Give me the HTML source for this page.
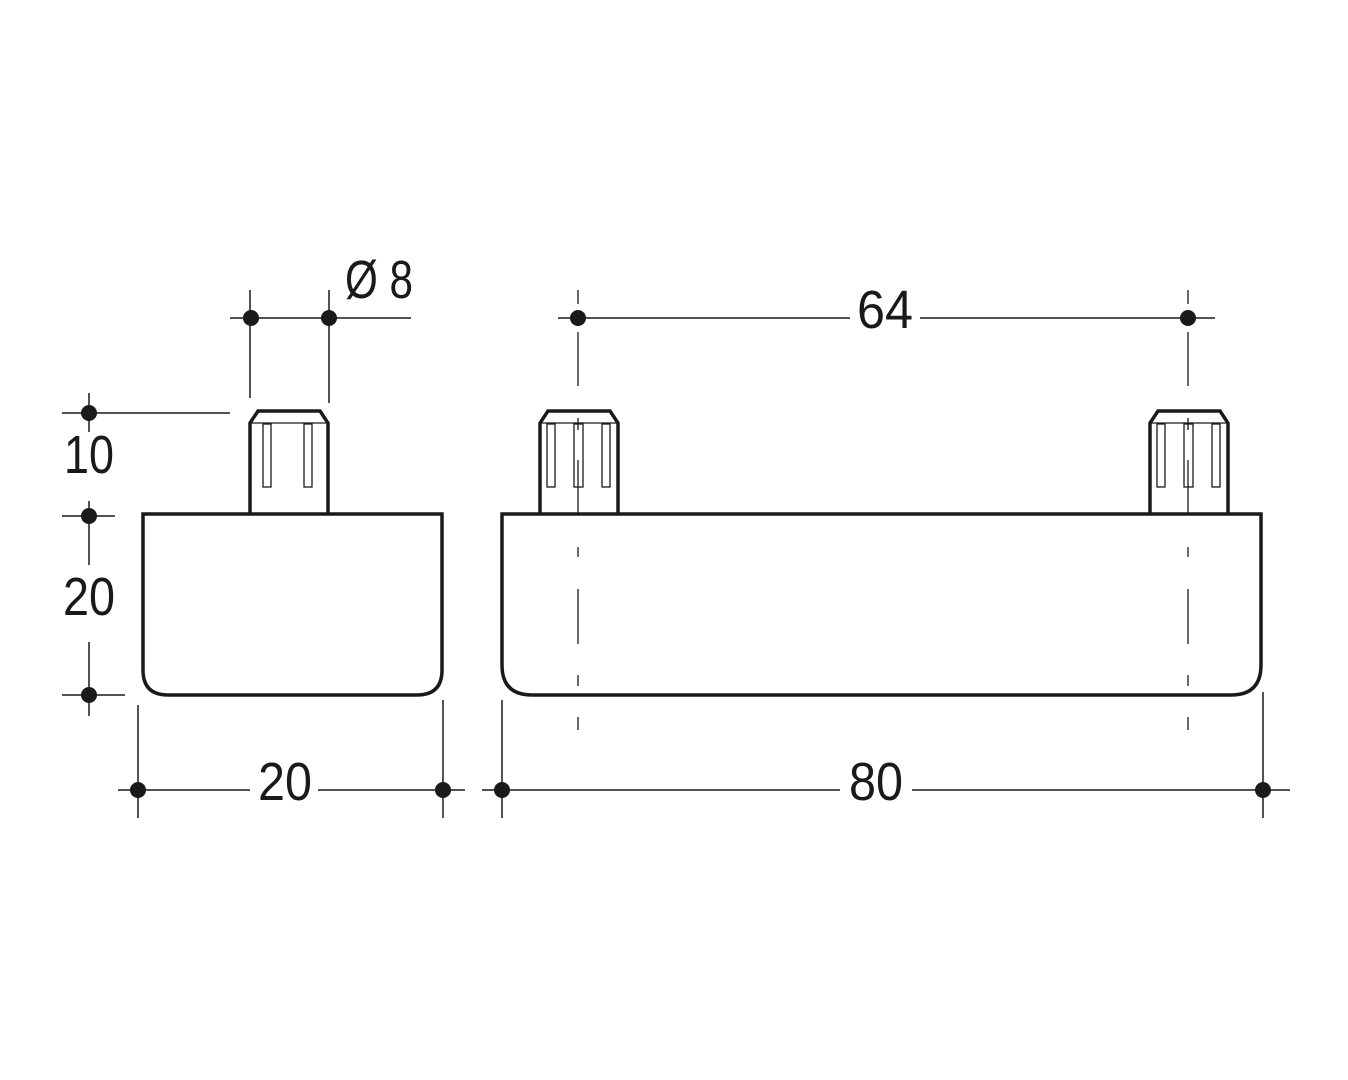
<!DOCTYPE html>
<html><head><meta charset="utf-8"><style>
html,body{margin:0;padding:0;background:#fff;}
svg{display:block;}
text{font-family:"Liberation Sans Narrow","Liberation Sans",sans-serif;font-size:54px;fill:#1a1a1a;}
</style></head><body>
<svg width="1348" height="1080" viewBox="0 0 1348 1080" xmlns="http://www.w3.org/2000/svg">
<g fill="none" stroke="#1a1a1a">
 <!-- left body -->
 <path d="M143 514 H442 V670 Q442 695 417 695 H168 Q143 695 143 670 Z" stroke-width="3.5"/>
 <!-- left pin -->
 <path d="M250 514 V423 L258 411 H320 L328 423 V514" stroke-width="3.5"/>
 <g stroke-width="1.3">
  <line x1="250" y1="423" x2="328" y2="423"/>
  <rect x="263" y="424" width="8" height="63"/>
  <rect x="304" y="424" width="8" height="63"/>
 </g>
 <!-- right body -->
 <path d="M502 514 H1261 V665 Q1261 695 1231 695 H532 Q502 695 502 665 Z" stroke-width="3.5"/>
 <!-- right pins -->
 <path d="M540 514 V423 L548 411 H610 L618 423 V514" stroke-width="3.5"/>
 <path d="M1150 514 V423 L1158 411 H1220 L1228 423 V514" stroke-width="3.5"/>
 <g stroke-width="1.3">
  <line x1="540" y1="423" x2="618" y2="423"/>
  <rect x="547" y="424" width="8" height="63"/>
  <rect x="574" y="424" width="9" height="63"/>
  <rect x="602" y="424" width="8" height="63"/>
  <line x1="1150" y1="423" x2="1228" y2="423"/>
  <rect x="1157" y="424" width="8" height="63"/>
  <rect x="1184" y="424" width="9" height="63"/>
  <rect x="1212" y="424" width="8" height="63"/>
 </g>
 <!-- centerlines -->
 <g stroke-width="1.3">
  <line x1="578" y1="290" x2="578" y2="304"/>
  <line x1="578" y1="332" x2="578" y2="386"/>
  <line x1="578" y1="418" x2="578" y2="430"/>
  <line x1="578" y1="460" x2="578" y2="514"/>
  <line x1="578" y1="547" x2="578" y2="557"/>
  <line x1="578" y1="589" x2="578" y2="644"/>
  <line x1="578" y1="675" x2="578" y2="686"/>
  <line x1="578" y1="717" x2="578" y2="730"/>
  <line x1="1188" y1="290" x2="1188" y2="304"/>
  <line x1="1188" y1="332" x2="1188" y2="386"/>
  <line x1="1188" y1="418" x2="1188" y2="430"/>
  <line x1="1188" y1="460" x2="1188" y2="514"/>
  <line x1="1188" y1="547" x2="1188" y2="557"/>
  <line x1="1188" y1="589" x2="1188" y2="644"/>
  <line x1="1188" y1="675" x2="1188" y2="686"/>
  <line x1="1188" y1="717" x2="1188" y2="730"/>
 </g>
 <!-- dimension lines -->
 <g stroke-width="1.5">
  <!-- left vertical -->
  <line x1="89" y1="393" x2="89" y2="432"/>
  <line x1="62" y1="413" x2="230" y2="413"/>
  <line x1="89" y1="501" x2="89" y2="565"/>
  <line x1="62" y1="516" x2="115" y2="516"/>
  <line x1="89" y1="642" x2="89" y2="716"/>
  <line x1="62" y1="695" x2="125" y2="695"/>
  <!-- Ø8 -->
  <line x1="250" y1="290" x2="250" y2="398"/>
  <line x1="329" y1="290" x2="329" y2="403"/>
  <line x1="230" y1="318" x2="411" y2="318"/>
  <!-- bottom 20 -->
  <line x1="118" y1="790" x2="250" y2="790"/>
  <line x1="318" y1="790" x2="465" y2="790"/>
  <line x1="138" y1="705" x2="138" y2="818"/>
  <line x1="443" y1="700" x2="443" y2="818"/>
  <!-- 64 -->
  <line x1="558" y1="318" x2="850" y2="318"/>
  <line x1="920" y1="318" x2="1215" y2="318"/>
  <!-- 80 -->
  <line x1="482" y1="790" x2="840" y2="790"/>
  <line x1="912" y1="790" x2="1290" y2="790"/>
  <line x1="502" y1="700" x2="502" y2="818"/>
  <line x1="1263" y1="692" x2="1263" y2="818"/>
 </g>
</g>
<g fill="#1a1a1a">
 <circle cx="89" cy="413" r="8"/>
 <circle cx="89" cy="516" r="8"/>
 <circle cx="89" cy="695" r="8"/>
 <circle cx="251" cy="318" r="8"/>
 <circle cx="329" cy="318" r="8"/>
 <circle cx="138" cy="790" r="8"/>
 <circle cx="443" cy="790" r="8"/>
 <circle cx="578" cy="318" r="8"/>
 <circle cx="1188" cy="318" r="8"/>
 <circle cx="502" cy="790" r="8"/>
 <circle cx="1263" cy="790" r="8"/>
</g>
<text x="89" y="473" text-anchor="middle" textLength="50" lengthAdjust="spacingAndGlyphs">10</text>
<text x="89" y="615" text-anchor="middle" textLength="52" lengthAdjust="spacingAndGlyphs">20</text>
<text x="345" y="298" textLength="68" lengthAdjust="spacingAndGlyphs">Ø 8</text>
<text x="285" y="800" text-anchor="middle" textLength="54" lengthAdjust="spacingAndGlyphs">20</text>
<text x="885" y="328" text-anchor="middle" textLength="56" lengthAdjust="spacingAndGlyphs">64</text>
<text x="876" y="800" text-anchor="middle" textLength="54" lengthAdjust="spacingAndGlyphs">80</text>
</svg>
</body></html>
